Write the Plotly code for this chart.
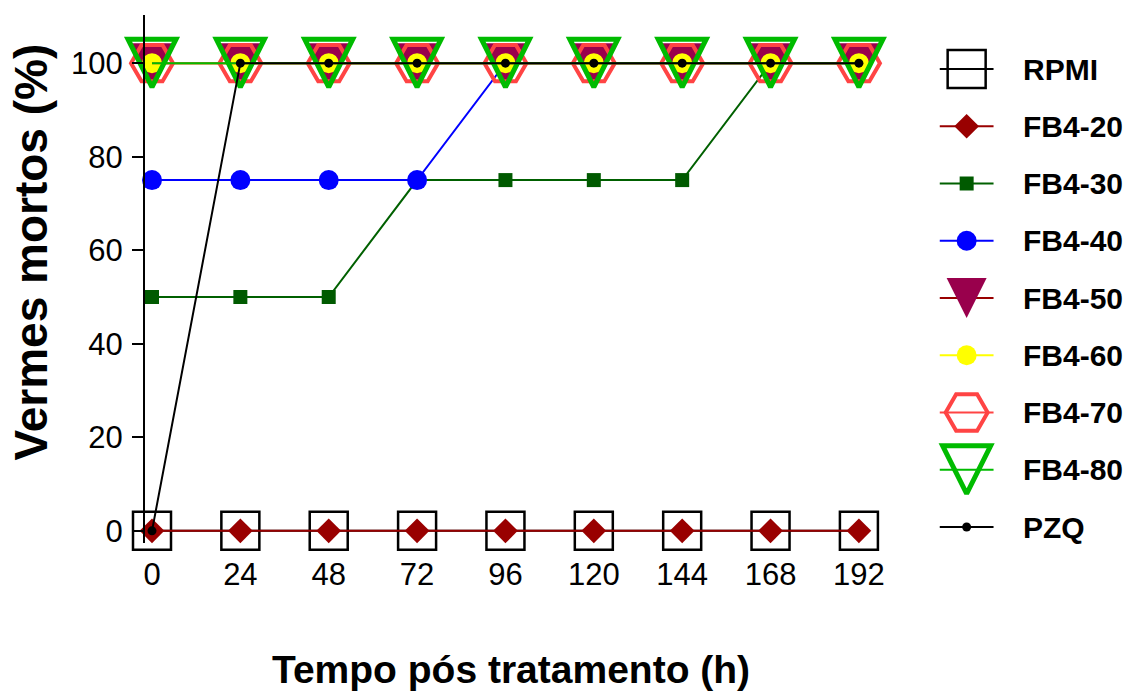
import plotly.graph_objects as go

# ---------------- data ----------------
hours = [0, 24, 48, 72, 96, 120, 144, 168, 192]
series = ["RPMI", "FB4-20", "FB4-30", "FB4-40", "FB4-50", "FB4-60", "FB4-70", "FB4-80", "PZQ"]
rpmi = [0, 0, 0, 0, 0, 0, 0, 0, 0]
fb4_20 = [0, 0, 0, 0, 0, 0, 0, 0, 0]
fb4_30 = [50, 50, 50, 75, 75, 75, 75, 100, 100]
fb4_40 = [75, 75, 75, 75, 100, 100, 100, 100, 100]
fb4_50 = [100, 100, 100, 100, 100, 100, 100, 100, 100]
fb4_60 = [100, 100, 100, 100, 100, 100, 100, 100, 100]
fb4_70 = [100, 100, 100, 100, 100, 100, 100, 100, 100]
fb4_80 = [100, 100, 100, 100, 100, 100, 100, 100, 100]
pzq = [0, 100, 100, 100, 100, 100, 100, 100, 100]
values = [rpmi, fb4_20, fb4_30, fb4_40, fb4_50, fb4_60, fb4_70, fb4_80, pzq]
y_ticks = [0, 20, 40, 60, 80, 100]

# ---------------- styles ----------------
styles = {
    "RPMI":   dict(line="#000000", symbol="square-open", size=38, color="#000000", lw=2.5, standoff=0),
    "FB4-20": dict(line="#990000", symbol="diamond", size=19, color="#990000", lw=0, standoff=0),
    "FB4-30": dict(line="#006000", symbol="square", size=14, color="#005A00", lw=0, standoff=0),
    "FB4-40": dict(line="#0000FF", symbol="circle", size=20, color="#0000FF", lw=0, standoff=0),
    "FB4-50": dict(line="#990000", symbol="arrow-down", size=40, color="#99004C", lw=0, standoff=20),
    "FB4-60": dict(line="#FFFF00", symbol="circle", size=20, color="#FFFF00", lw=0, standoff=0),
    "FB4-70": dict(line="#FF4444", symbol="hexagon2-open", size=42, color="#FF4444", lw=4, standoff=0),
    "FB4-80": dict(line="#00BB00", symbol="arrow-down-open", size=48, color="#00BB00", lw=5, standoff=24),
    "PZQ":    dict(line="#000000", symbol="circle", size=9, color="#000000", lw=0, standoff=0),
}

FONT = "Liberation Sans, Arial, sans-serif"
W, H = 1129, 695
L, T, B = 145, 15, 152
PW = W - L
PH = H - T - B

def dx(px):
    return (px - L) / PW

def dy(py):
    return (H - B - py) / PH

fig = go.Figure()

for name, vals in zip(series, values):
    s = styles[name]
    mk = dict(symbol=s["symbol"], size=s["size"], color=s["color"],
              line=dict(width=s["lw"], color=s["color"]))
    if s["standoff"]:
        mk["standoff"] = s["standoff"]
    fig.add_trace(go.Scatter(
        x=hours, y=vals, mode="lines+markers", name=name,
        line=dict(color=s["line"], width=2),
        marker=mk, cliponaxis=False, showlegend=False,
        xaxis="x", yaxis="y",
    ))

# ---------------- custom legend ----------------
leg_x0, leg_x1, leg_xm, leg_tx = 943, 997, 970, 1025
row0, step = 69, 57.25
for i, name in enumerate(series):
    s = styles[name]
    yy = row0 + i * step
    fig.add_trace(go.Scatter(
        x=[leg_x0, leg_x1], y=[yy, yy], mode="lines",
        line=dict(color=s["line"], width=2), showlegend=False,
        xaxis="x2", yaxis="y2", hoverinfo="skip", cliponaxis=False,
    ))
    mk = dict(symbol=s["symbol"], size=s["size"], color=s["color"],
              line=dict(width=s["lw"], color=s["color"]))
    if s["standoff"]:
        mk["standoff"] = s["standoff"]
    fig.add_trace(go.Scatter(
        x=[leg_xm], y=[yy], mode="markers", marker=mk, showlegend=False,
        xaxis="x2", yaxis="y2", hoverinfo="skip", cliponaxis=False,
    ))
    fig.add_annotation(x=leg_tx, y=yy, xref="x2", yref="y2", text="<b>%s</b>" % name,
                       showarrow=False, xanchor="left", yanchor="middle",
                       font=dict(family=FONT, size=30, color="black"))

# ---------------- titles ----------------
fig.add_annotation(x=dx(31), y=dy(252), xref="paper", yref="paper",
                   text="<b>Vermes mortos (%)</b>", textangle=-90, showarrow=False,
                   xanchor="center", yanchor="middle",
                   font=dict(family=FONT, size=46, color="black"))
fig.add_annotation(x=dx(512), y=dy(669), xref="paper", yref="paper",
                   text="<b>Tempo pós tratamento (h)</b>", showarrow=False,
                   xanchor="center", yanchor="middle",
                   font=dict(family=FONT, size=39, color="black"))

fig.update_layout(
    width=W, height=H,
    margin=dict(l=L, r=0, t=T, b=B),
    paper_bgcolor="white", plot_bgcolor="white",
    showlegend=False,
    xaxis=dict(domain=[0, dx(884)], range=[-1.9, 198], tickvals=hours,
               ticktext=[str(h) for h in hours], showline=False, ticks="",
               showgrid=False, zeroline=False, ticklabelstandoff=10,
               tickfont=dict(family=FONT, size=31, color="black")),
    yaxis=dict(range=[-2.6, 110.3], tickvals=y_ticks, showline=True, linewidth=2,
               linecolor="black", ticks="outside", ticklen=11, tickwidth=2,
               tickcolor="black", showgrid=False, zeroline=False, ticklabelstandoff=3,
               tickfont=dict(family=FONT, size=31, color="black")),
    xaxis2=dict(domain=[dx(900), 1.0], range=[900, 1129], visible=False),
    yaxis2=dict(domain=[0, 1], range=[H - B, T], visible=False, anchor="x2"),
)

fig.write_html("out.html", config={"displayModeBar": False},
               post_script="document.body.style.margin='0';document.body.style.overflow='hidden';")
